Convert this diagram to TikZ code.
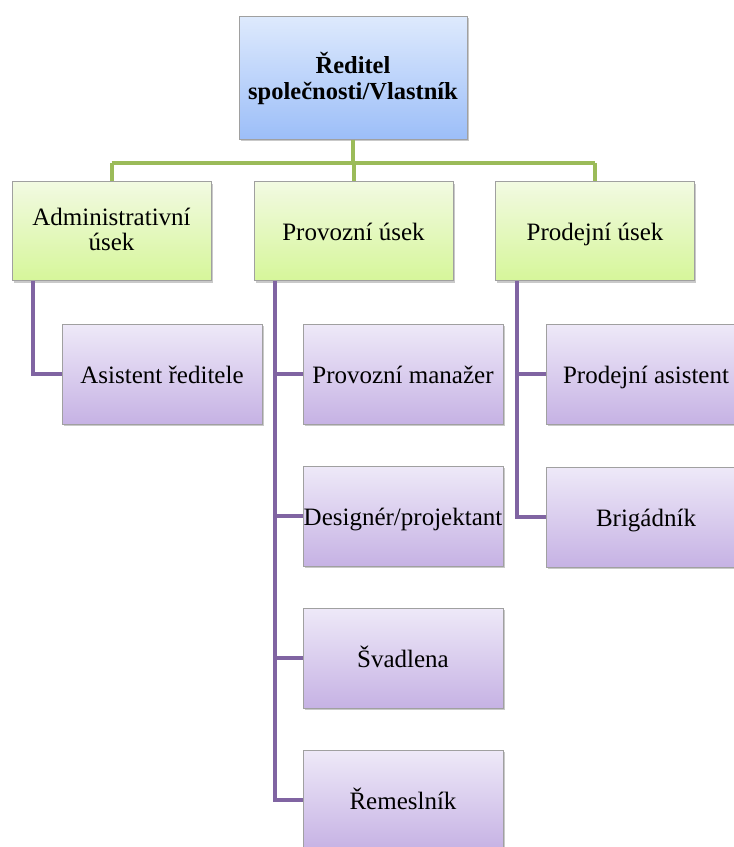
\documentclass[tikz,border=0pt]{standalone}
\usepackage{fontspec}
\setmainfont{Liberation Serif}
\usetikzlibrary{shadows}
\definecolor{gline}{HTML}{9BBB59}
\definecolor{pline}{HTML}{8064A2}
\definecolor{bordc}{HTML}{A0A0A0}
\tikzset{
  box/.style={rectangle, draw=bordc, line width=1pt, align=center, inner xsep=0pt,
    font=\fontsize{25}{25.5}\selectfont, text=black,
    drop shadow={shadow xshift=1.5pt, shadow yshift=-2pt, opacity=0.35, fill=black!60}},
  one/.style={text height=20pt, text depth=2pt},
  topbox/.style={box, minimum width=228pt, minimum height=123pt,
    top color={rgb,255:red,222;green,234;blue,253}, bottom color={rgb,255:red,156;green,190;blue,248},
    font=\fontsize{24.5}{25.5}\selectfont\bfseries},
  midbox/.style={box, minimum width=199pt, minimum height=99pt,
    top color={rgb,255:red,242;green,250;blue,226}, bottom color={rgb,255:red,214;green,246;blue,154}},
  lowbox/.style={box, one, minimum width=200pt, minimum height=100pt,
    top color={rgb,255:red,238;green,233;blue,248}, bottom color={rgb,255:red,198;green,178;blue,228}},
  gconn/.style={draw=gline, line width=4pt},
  pconn/.style={draw=pline, line width=4pt},
}
\begin{document}
\begin{tikzpicture}[x=1pt,y=-1pt]
\useasboundingbox (0,0) rectangle (734,847);
\fill[white] (0,0) rectangle (734,847);
\coordinate (bus) at (0,163);
% nodes
\node[topbox, text depth=3pt] (top) at (353,77.5) {Ředitel\\společnosti/Vlastník};
\node[midbox, text depth=3pt] (adm) at (111.5,231) {Administrativní\\úsek};
\node[midbox, one] (prov) at (353.5,231) {Provozní úsek};
\node[midbox, one] (prod) at (595,231) {Prodejní úsek};
\node[lowbox] (asr) at (162,374) {Asistent ředitele};
\node[lowbox] (pm) at (403,374) {Provozní manažer};
\node[lowbox] (dp) at (403,516) {Designér/projektant};
\node[lowbox] (sv) at (403,658) {Švadlena};
\node[lowbox] (rm) at (403,800) {Řemeslník};
\node[lowbox] (pa) at (646,374) {Prodejní asistent};
\node[lowbox] (br) at (646,517) {Brigádník};
% purple connectors
\coordinate (a1) at ([xshift=21pt]adm.south west);
\coordinate (p1) at ([xshift=21pt]prov.south west);
\coordinate (s1) at ([xshift=22pt]prod.south west);
\draw[pconn] (a1) |- (asr.west);
\draw[pconn] (p1) |- (rm.west);
\draw[pconn] (p1 |- pm.west) -- (pm.west);
\draw[pconn] (p1 |- dp.west) -- (dp.west);
\draw[pconn] (p1 |- sv.west) -- (sv.west);
\draw[pconn] (s1) |- (br.west);
\draw[pconn] (s1 |- pa.west) -- (pa.west);
% green connectors
\draw[gconn] (top.south) -- (top.south |- bus);
\draw[gconn] (adm.north |- bus) -- (prod.north |- bus);
\draw[gconn] (adm.north |- bus) -- (adm.north);
\draw[gconn] (prov.north |- bus) -- (prov.north);
\draw[gconn] (prod.north |- bus) -- (prod.north);
\end{tikzpicture}
\end{document}
